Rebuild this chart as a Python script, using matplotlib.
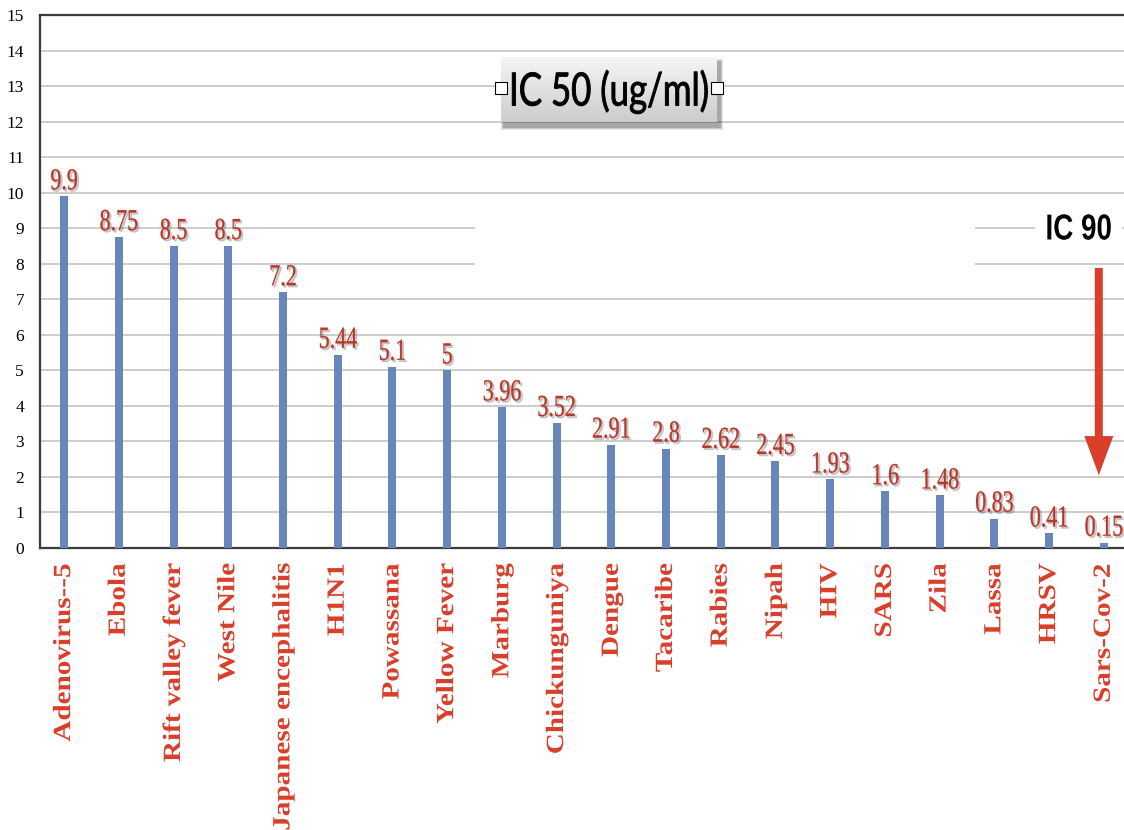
import numpy as np
import matplotlib
matplotlib.use("Agg")
import matplotlib.pyplot as plt
import matplotlib.patheffects as pe
from matplotlib.patches import Rectangle, FancyArrow
from matplotlib.transforms import Affine2D

# Data
viruses = ["Adenovirus--5", "Ebola", "Rift valley fever", "West Nile",
           "Japanese encephalitis", "H1N1", "Powassana", "Yellow Fever",
           "Marburg", "Chickunguniya", "Dengue", "Tacaribe", "Rabies", "Nipah",
           "HIV", "SARS", "Zila", "Lassa", "HRSV", "Sars-Cov-2"]
ic50 = [9.9, 8.75, 8.5, 8.5, 7.2, 5.44, 5.1, 5, 3.96, 3.52, 2.91, 2.8,
        2.62, 2.45, 1.93, 1.6, 1.48, 0.83, 0.41, 0.15]
yticks = list(range(0, 16))

# Style
BAR_COLOR = "#6787ba"
VALUE_COLOR = "#b8362a"
LABEL_COLOR = "#d8402b"
ARROW_COLOR = "#d8402b"
GRID_COLOR = "#c8c8c8"
SPINE_COLOR = "#3c3c3c"

# IC 90 arrow, in data units
ARROW_X = 18.91
ARROW_TOP = 7.88
ARROW_TIP = 2.05

W, H = 1124, 830


class Squeeze(pe.AbstractPathEffect):
    """Draw text narrowed horizontally around its own centre."""

    def __init__(self, sx, offset=(0, 0), color=None, alpha=1.0, stroke=0.0):
        super().__init__(offset)
        self._sx = sx
        self._color = color
        self._alpha = alpha
        self._stroke = stroke

    def draw_path(self, renderer, gc, tpath, affine, rgbFace=None):
        box = tpath.get_extents(affine)
        cx = 0.5 * (box.x0 + box.x1)
        squeeze = Affine2D().translate(-cx, 0).scale(self._sx, 1).translate(cx, 0)
        aff = affine + squeeze + self._offset_transform(renderer)
        face = rgbFace if self._color is None else matplotlib.colors.to_rgba(self._color)
        gc0 = renderer.new_gc()
        gc0.copy_properties(gc)
        gc0.set_alpha(self._alpha)
        if self._stroke:
            gc0.set_linewidth(renderer.points_to_pixels(self._stroke))
            gc0.set_foreground(face)
            gc0.set_joinstyle("round")
        renderer.draw_path(gc0, tpath, aff, face)
        gc0.restore()


fig = plt.figure(figsize=(W / 100, H / 100), dpi=100)
ax = fig.add_axes([40 / W, 1 - 548 / H, 1 - 40 / W, (548 - 15) / H])
ax.set_zorder(0)

x = np.arange(len(viruses))
ax.bar(x, ic50, width=0.146, color=BAR_COLOR, zorder=3)

ax.set_xlim(-0.44, len(viruses) - 0.63)
ax.set_ylim(0, 15)
ax.set_yticks(yticks)
ax.set_xticks(x)
ax.set_xticklabels(viruses, rotation=90, va="top", ha="center",
                   fontfamily="Liberation Serif", fontweight="bold",
                   fontsize=21, color=LABEL_COLOR)
for lab in ax.get_xticklabels():
    lab.set_path_effects([Squeeze(0.85)])
for lab in ax.get_yticklabels():
    lab.set_fontfamily("Liberation Serif")
    lab.set_fontsize(12.5)
ax.tick_params(axis="x", length=0, pad=11)
ax.tick_params(axis="y", length=0, pad=11.5)

ax.set_axisbelow(True)
ax.yaxis.grid(True, color=GRID_COLOR, linewidth=1.3)
for side in ["left", "bottom", "top"]:
    ax.spines[side].set_color(SPINE_COLOR)
    ax.spines[side].set_linewidth(1.6)
ax.spines["right"].set_visible(False)

# blank panel over the 8 and 9 gridlines in the middle
ax.add_patch(Rectangle((7.51, 7.5), 16.64 - 7.51, 9.75 - 7.5,
                       facecolor="white", edgecolor="none", zorder=1.5))

# value labels
for xi, v in zip(x, ic50):
    t = ax.annotate(f"{v:g}", (xi, v), xytext=(0, 5), textcoords="offset points",
                    ha="center", va="baseline", fontfamily="Liberation Serif",
                    fontsize=22, color=VALUE_COLOR, zorder=4)
    t.set_path_effects([Squeeze(0.72, offset=(1.3, -1.3), color="0.45", alpha=0.3, stroke=0.5),
                        Squeeze(0.72, stroke=0.15)])

# IC 90 marker
t = ax.text(18.54, 8.95, "IC 90", ha="center", va="center",
            fontfamily="Liberation Sans", fontweight="bold", fontsize=26,
            color="black", zorder=4,
            bbox=dict(facecolor="white", edgecolor="none", pad=0))
t.set_path_effects([Squeeze(0.77)])
ax.add_patch(FancyArrow(ARROW_X, ARROW_TOP, 0, ARROW_TIP - ARROW_TOP,
                        width=0.146, head_width=0.53, head_length=1.1,
                        length_includes_head=True, color=ARROW_COLOR,
                        linewidth=0, zorder=4))

# title box with gradient and drop shadow
bx, by, bw, bh = 501, 57, 216, 65
for k, a in enumerate([0.10, 0.12, 0.16]):
    grow = 3 - k
    fig.patches.append(Rectangle(((bx + 3 - grow) / W, 1 - (by + bh + 5 + grow) / H),
                                 (bw + 2 * grow) / W, (bh + 2 * grow) / H,
                                 transform=fig.transFigure, facecolor="black",
                                 edgecolor="none", alpha=a, zorder=1))
box_ax = fig.add_axes([bx / W, 1 - (by + bh) / H, bw / W, bh / H])
box_ax.set_zorder(2)
grad = np.linspace(0.96, 0.80, 64).reshape(-1, 1)
box_ax.imshow(grad, cmap="gray", vmin=0, vmax=1, aspect="auto",
              extent=(0, 1, 0, 1), origin="upper")
box_ax.set_xlim(0, 1)
box_ax.set_ylim(0, 1)
box_ax.axis("off")
t = box_ax.text(0.5, 0.47, "IC 50 (ug/ml)", ha="center", va="center",
                fontfamily="Lato", fontsize=33, color="black",
                transform=box_ax.transAxes)
t.set_path_effects([Squeeze(0.76, stroke=0.45)])
box_ax.plot([0, 1], [0.52, 0.52], "s", ms=8, mfc="white", mec="black",
            mew=0.8, clip_on=False, zorder=5)

fig.savefig("out.png", dpi=100)
